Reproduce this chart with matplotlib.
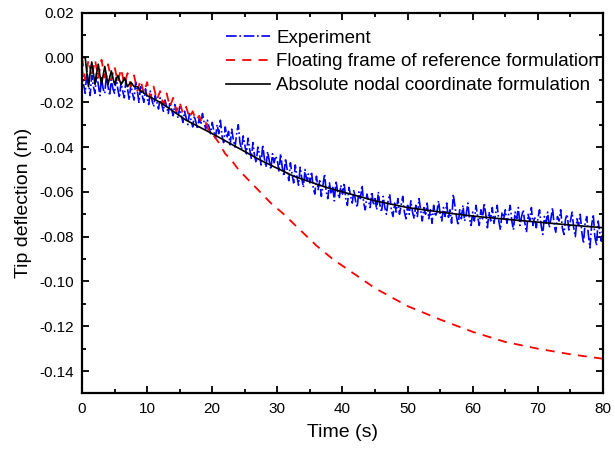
import numpy as np
import matplotlib.pyplot as plt
from matplotlib.ticker import MultipleLocator, FormatStrFormatter

plt.rcParams['font.family'] = ['Liberation Sans', 'DejaVu Sans']

# experiment, sampled every 0.25 s from 0 to 80 s
exp_y = [
    -0.004, -0.012, -0.016, -0.006, -0.011, -0.017, -0.008, -0.013, -0.016, -0.007,
    -0.012, -0.017, -0.009, -0.014, -0.016, -0.008, -0.013, -0.017, -0.010, -0.014,
    -0.016, -0.009, -0.014, -0.018, -0.011, -0.015, -0.018, -0.010, -0.014, -0.019,
    -0.012, -0.016, -0.019, -0.011, -0.015, -0.020, -0.013, -0.017, -0.020, -0.014,
    -0.018, -0.021, -0.015, -0.019, -0.022, -0.017, -0.020, -0.023, -0.018, -0.021,
    -0.024, -0.019, -0.022, -0.025, -0.020, -0.023, -0.026, -0.021, -0.024, -0.027,
    -0.022, -0.026, -0.029, -0.024, -0.027, -0.030, -0.025, -0.028, -0.031, -0.026,
    -0.029, -0.032, -0.027, -0.030, -0.025, -0.029, -0.032, -0.028, -0.031, -0.034,
    -0.029, -0.033, -0.036, -0.030, -0.034, -0.028, -0.035, -0.038, -0.031, -0.036,
    -0.033, -0.039, -0.032, -0.037, -0.040, -0.034, -0.030, -0.038, -0.041, -0.035,
    -0.039, -0.043, -0.036, -0.041, -0.045, -0.038, -0.044, -0.047, -0.040, -0.043,
    -0.048, -0.039, -0.045, -0.049, -0.042, -0.046, -0.050, -0.043, -0.047, -0.044,
    -0.046, -0.051, -0.043, -0.049, -0.053, -0.045, -0.050, -0.055, -0.047, -0.052,
    -0.056, -0.048, -0.053, -0.057, -0.049, -0.054, -0.058, -0.050, -0.055, -0.052,
    -0.056, -0.051, -0.058, -0.061, -0.053, -0.059, -0.055, -0.062, -0.057, -0.052,
    -0.060, -0.063, -0.056, -0.061, -0.058, -0.064, -0.055, -0.060, -0.063, -0.057,
    -0.061, -0.056, -0.063, -0.066, -0.058, -0.062, -0.065, -0.059, -0.064, -0.067,
    -0.060, -0.063, -0.057, -0.065, -0.068, -0.061, -0.064, -0.067, -0.060, -0.066,
    -0.063, -0.068, -0.060, -0.066, -0.069, -0.062, -0.067, -0.070, -0.064, -0.061,
    -0.068, -0.071, -0.065, -0.069, -0.063, -0.070, -0.066, -0.062, -0.069, -0.072,
    -0.066, -0.070, -0.064, -0.069, -0.072, -0.066, -0.071, -0.063, -0.068, -0.073,
    -0.067, -0.070, -0.065, -0.072, -0.068, -0.074, -0.066, -0.071, -0.069, -0.064,
    -0.070, -0.073, -0.067, -0.071, -0.065, -0.072, -0.068, -0.074, -0.061, -0.066,
    -0.071, -0.075, -0.068, -0.072, -0.066, -0.073, -0.070, -0.065, -0.072, -0.075,
    -0.069, -0.073, -0.066, -0.071, -0.075, -0.068, -0.072, -0.065, -0.070, -0.076,
    -0.069, -0.073, -0.067, -0.074, -0.070, -0.066, -0.073, -0.077, -0.069, -0.072,
    -0.068, -0.074, -0.070, -0.066, -0.073, -0.077, -0.069, -0.072, -0.067, -0.075,
    -0.071, -0.068, -0.074, -0.078, -0.070, -0.073, -0.067, -0.075, -0.071, -0.076,
    -0.072, -0.068, -0.075, -0.079, -0.071, -0.074, -0.069, -0.076, -0.072, -0.067,
    -0.075, -0.078, -0.071, -0.073, -0.068, -0.076, -0.079, -0.072, -0.070, -0.077,
    -0.073, -0.069, -0.076, -0.080, -0.072, -0.075, -0.070, -0.078, -0.083, -0.074,
    -0.071, -0.079, -0.085, -0.075, -0.070, -0.080, -0.084, -0.073, -0.078, -0.082,
    -0.075,
]
exp_t = np.linspace(0, 80, len(exp_y))

# floating frame of reference formulation
ffr_t = [0, 0.5, 1, 1.5, 2, 2.5, 3, 3.5, 4, 4.5, 5, 5.5, 6, 6.5, 7, 7.5, 8, 8.5, 9, 9.5,
         10, 10.5, 11, 11.5, 12, 12.5, 13, 13.5, 14, 14.5, 15, 15.5, 16, 16.5, 17, 17.5,
         18, 18.5, 19, 19.5, 20, 21, 22, 23, 24, 25, 27, 29, 31, 33.5, 36, 38.5, 41.5,
         45, 50, 55, 60, 65, 70, 75, 80]
ffr_y = [0.000, -0.010, -0.001, -0.009, -0.001, -0.009, -0.001, -0.009, -0.003, -0.010,
         -0.004, -0.011, -0.005, -0.012, -0.007, -0.013, -0.008, -0.015, -0.010, -0.016,
         -0.011, -0.018, -0.013, -0.019, -0.015, -0.021, -0.016, -0.022, -0.018, -0.024,
         -0.020, -0.025, -0.022, -0.027, -0.024, -0.028, -0.026, -0.030, -0.029, -0.033,
         -0.034, -0.038, -0.043, -0.046, -0.050, -0.053, -0.059, -0.065, -0.070, -0.077,
         -0.084, -0.090, -0.096, -0.103, -0.111, -0.117, -0.1225, -0.127, -0.130, -0.1325,
         -0.1345]

# absolute nodal coordinate formulation
ancf_t = [0, 0.25, 0.5, 0.75, 1, 1.25, 1.5, 1.75, 2, 2.25, 2.5, 2.75, 3, 3.25, 3.5, 3.75,
          4, 4.25, 4.5, 4.75, 5, 5.25, 5.5, 5.75, 6, 6.25, 6.5, 6.75, 7, 7.25, 7.5, 7.75,
          8, 8.25, 8.5, 8.75, 9, 9.25, 9.5, 9.75, 10, 12, 14, 16, 18, 20, 22.5, 25, 27.5,
          30, 32.5, 35, 37.5, 40, 45, 50, 55, 60, 65, 70, 75, 80]
ancf_y = [0.000, 0.000, 0.000, -0.007, -0.013, -0.007, -0.002, -0.007, -0.012, -0.007,
          -0.003, -0.008, -0.012, -0.008, -0.004, -0.008, -0.012, -0.009, -0.006, -0.009,
          -0.012, -0.010, -0.008, -0.010, -0.012, -0.011, -0.009, -0.011, -0.013, -0.012,
          -0.011, -0.012, -0.013, -0.013, -0.013, -0.014, -0.015, -0.015, -0.016, -0.016,
          -0.017, -0.020, -0.024, -0.028, -0.031, -0.034, -0.038, -0.042, -0.046, -0.0495,
          -0.053, -0.0555, -0.058, -0.060, -0.064, -0.067, -0.069, -0.0708, -0.0722,
          -0.0735, -0.0748, -0.076]

fig = plt.figure(figsize=(6.15, 4.5), dpi=100)
ax = fig.add_axes([0.1333, 0.1256, 0.8472, 0.8462])

ax.plot(exp_t, exp_y, color='blue', linestyle='-.', linewidth=1.2, label='Experiment')
ax.plot(ffr_t, ffr_y, color='red', linestyle=(0, (5, 4)), linewidth=1.3,
        label='Floating frame of reference formulation')
ax.plot(ancf_t, ancf_y, color='black', linestyle='-', linewidth=1.2,
        label='Absolute nodal coordinate formulation')

ax.set_xlim(0, 80)
ax.set_ylim(-0.15, 0.02)
ax.xaxis.set_major_locator(MultipleLocator(10))
ax.xaxis.set_minor_locator(MultipleLocator(5))
ax.yaxis.set_major_locator(MultipleLocator(0.02))
ax.yaxis.set_minor_locator(MultipleLocator(0.01))
ax.yaxis.set_major_formatter(FormatStrFormatter('%.2f'))

ax.tick_params(which='both', direction='in', top=True, right=True, labelsize=11, width=1.3)
ax.tick_params(which='major', length=5, pad=6)
ax.tick_params(which='minor', length=3)
for s in ax.spines.values():
    s.set_linewidth(1.6)

ax.set_xlabel('Time (s)', fontsize=14, labelpad=6)
ax.set_ylabel('Tip deflection (m)', fontsize=14, labelpad=5)

leg = ax.legend(loc='upper left', bbox_to_anchor=(0.252, 0.99), frameon=False, fontsize=13.5,
                handlelength=2.3, handletextpad=0.37, labelspacing=0.35, borderpad=0.2)
# legend text is cut off at the right frame, as in the original
for txt in leg.get_texts():
    txt.set_clip_box(ax.bbox)
    txt.set_clip_on(True)

fig.savefig('out.png', dpi=100)
